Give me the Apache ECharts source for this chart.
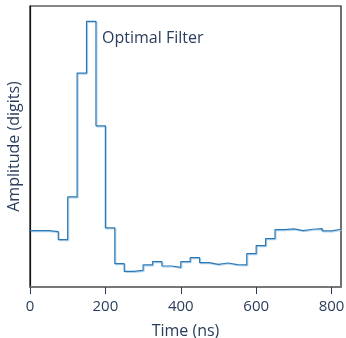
<!DOCTYPE html>
<html>
<head>
<meta charset="utf-8">
<script src="https://cdn.jsdelivr.net/npm/echarts@6/dist/echarts.min.js"></script>
<style>
  html, body { margin: 0; padding: 0; background: #fff; }
  #main { width: 346px; height: 338px; }
</style>
</head>
<body>
<div id="main"></div>
<script>
// bin start times (ns), 25 ns bins
var binStart = [0, 25, 50, 75, 100, 125, 150, 175, 200, 225, 250, 275, 300, 325, 350, 375,
    400, 425, 450, 475, 500, 525, 550, 575, 600, 625, 650, 675, 700, 725, 750, 775, 800];
var binEnd = 825;
// amplitude per bin (arbitrary digits)
var amplitude = [169, 169, 166, 142, 270, 641, 796, 483, 177, 70, 47, 50, 66, 76, 63, 59,
    76, 88, 73, 68, 72, 67, 66, 100, 124, 145, 172, 174, 169, 173, 175, 168, 173];
var xTicks = [0, 200, 400, 600, 800];

var textColor = '#2a3d5c';

var data = binStart.map(function (t, i) {
    return [t, amplitude[i]];
});
data.push([binEnd, amplitude[amplitude.length - 1]]);

var dom = document.getElementById('main');
var myChart = echarts.init(dom, null, { renderer: 'canvas' });

myChart.setOption({
    animation: false,
    title: {
        text: 'Optimal Filter',
        left: 97,
        top: 25,
        textStyle: {
            fontFamily: 'Open Sans',
            fontSize: 16,
            fontWeight: 'normal',
            color: textColor
        }
    },
    grid: {
        left: 30,
        right: 5,
        top: 6,
        bottom: 51,
        outerBoundsMode: 'none',
        containLabel: false,
        show: true,
        borderColor: '#111',
        borderWidth: 1.2
    },
    xAxis: {
        type: 'value',
        min: 0,
        max: binEnd,
        interval: 200,
        name: 'Time (ns)',
        nameLocation: 'middle',
        nameGap: 36,
        nameTextStyle: {
            fontFamily: 'Open Sans',
            fontSize: 16,
            color: textColor
        },
        axisLine: { show: true, lineStyle: { color: '#777', width: 2 } },
        axisTick: {
            show: true,
            length: 7,
            customValues: xTicks,
            lineStyle: { color: textColor, width: 1 }
        },
        axisLabel: {
            fontFamily: 'Open Sans',
            fontSize: 15,
            color: textColor,
            margin: 12,
            customValues: xTicks
        },
        splitLine: { show: false }
    },
    yAxis: {
        type: 'value',
        min: 0,
        max: 842,
        name: 'Amplitude (digits)',
        nameLocation: 'middle',
        nameGap: 8,
        nameTextStyle: {
            fontFamily: 'Open Sans',
            fontSize: 16,
            color: textColor
        },
        axisLine: { show: true, lineStyle: { color: '#111', width: 1.2 } },
        axisTick: { show: false },
        axisLabel: { show: false },
        splitLine: { show: false }
    },
    series: [{
        type: 'line',
        step: 'end',
        data: data,
        symbol: 'none',
        lineStyle: {
            color: '#2a78b5',
            width: 1.2,
            shadowColor: 'rgba(150,195,230,0.7)',
            shadowBlur: 0,
            shadowOffsetX: 1,
            shadowOffsetY: 1
        }
    }]
});

window.onresize = function () {
    myChart.resize();
};
</script>
</body>
</html>
